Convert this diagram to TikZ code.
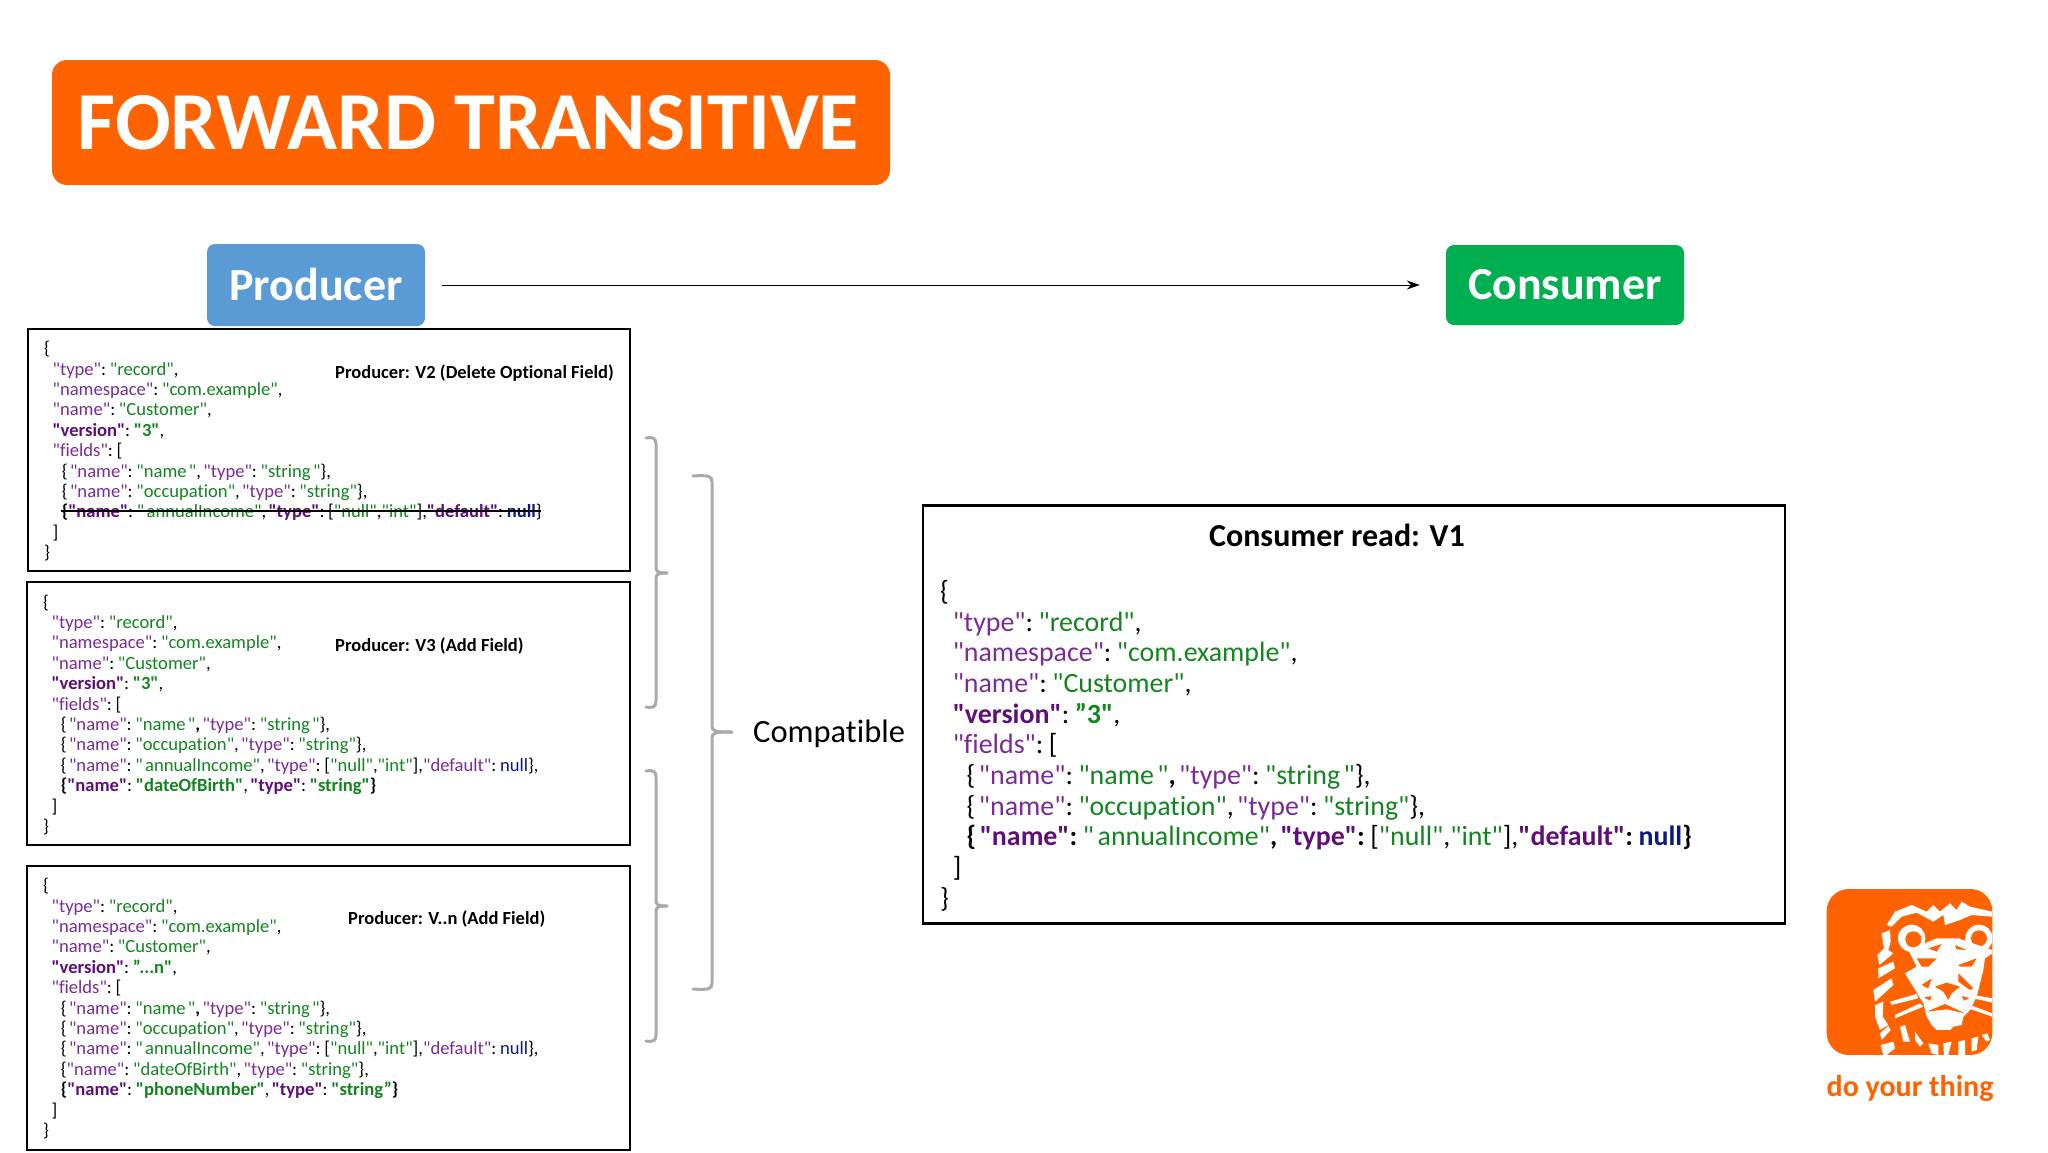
\documentclass[tikz,border=0pt]{standalone}
\usepackage{fontspec}
\usetikzlibrary{arrows.meta}
\setmainfont{Carlito}[Ligatures=NoCommon]
\newfontfamily\jsonfont{Carlito}[Ligatures=NoCommon,WordSpace=0.55]
\definecolor{ingorange}{HTML}{FF6200}
\definecolor{prodblue}{HTML}{5B9BD5}
\definecolor{consgreen}{HTML}{00B050}
\definecolor{keypurple}{HTML}{7B2A96}
\definecolor{boldpurple}{HTML}{5E0F78}
\definecolor{valgreen}{HTML}{12851F}
\definecolor{nullblue}{HTML}{0A1A80}
\definecolor{bracegray}{HTML}{A9A9A9}
\newcommand{\jk}[1]{\textcolor{keypurple}{#1}}
\newcommand{\jv}[1]{\textcolor{valgreen}{#1}}
\newcommand{\jb}[1]{\textbf{\textcolor{boldpurple}{#1}}}
\newcommand{\jg}[1]{\textbf{\textcolor{valgreen}{#1}}}
\newcommand{\jn}[1]{\textcolor{nullblue}{#1}}
\newcommand{\ii}{\hspace*{.45em}}
\newcommand{\iii}{\hspace*{.95em}}
\newcommand{\grpbrace}[6]{% left x, spine x, tip x, top y, middle y, bottom y
  \draw[bracestroke] (#1,#4) .. controls (#2-3,#4-1) and (#2,#4) .. (#2,#4+6) -- (#2,#5-6)
    .. controls (#2,#5-1) and (#2+2,#5) .. (#3,#5);
  \draw[bracestroke] (#3,#5) .. controls (#2+2,#5) and (#2,#5+1) .. (#2,#5+6) -- (#2,#6-6)
    .. controls (#2,#6) and (#2-3,#6+1) .. (#1,#6);
}
\tikzset{
  codebox/.style={draw=black,line width=2.5pt,anchor=north west,inner sep=0pt,outer sep=0pt},
  jsontext/.style={align=left,anchor=north west,inner sep=0pt,font=\jsonfont\fontsize{18.6}{20.4}\selectfont},
  bigjson/.style={jsontext,font=\jsonfont\fontsize{27.9}{30.7}\selectfont},
  caption/.style={anchor=west,inner sep=0pt,font=\fontsize{18.5}{20}\selectfont\bfseries},
  rolebox/.style={rounded corners=8pt,text=white,inner sep=0pt,font=\fontsize{46}{50}\selectfont\bfseries},
  bracestroke/.style={draw=bracegray,line width=3pt,line cap=round},
  lionwhite/.style={fill=white},
  lionorange/.style={fill=ingorange},
}
\begin{document}
\begin{tikzpicture}[x=1pt,y=-1pt]
\useasboundingbox (0,0) rectangle (2048,1152);

% title
\node[fill=ingorange,rounded corners=15pt,minimum width=838pt,minimum height=125pt,text=white,inner sep=0pt,
      font=\fontsize{82.5}{90}\selectfont\bfseries] (title) at (471,122.5) {FORWARD TRANSITIVE\hspace*{5pt}};

% producer and consumer
\node[rolebox,fill=prodblue,minimum width=218pt,minimum height=82pt] (producer) at (316,285) {Producer};
\node[rolebox,fill=consgreen,minimum width=238pt,minimum height=80pt] (consumer) at (1565,285) {Consumer};
\draw[-{Stealth[length=13pt,width=9pt]},line width=1pt,shorten <=17pt,shorten >=26pt] (producer) -- (consumer);

% producer v2
\node[codebox,minimum width=602pt,minimum height=242pt] (boxtwo) at (28,329) {};
\node[jsontext] (jsontwo) at (44,341) {\{\\
\ii\jk{"type"}: \jv{"record"},\\
\ii\jk{"namespace"}: \jv{"com.example"},\\
\ii\jk{"name"}: \jv{"Customer"},\\
\ii\jb{"version"}: \jg{"3"},\\
\ii\jk{"fields"}: [\\
\iii\{ \jk{"name"}: \jv{"name "}, \jk{"type"}: \jv{"string "}\},\\
\iii\{ \jk{"name"}: \jv{"occupation"}, \jk{"type"}: \jv{"string"}\},\\
\iii\textbf{\{}\jb{"name"}: \jv{" annualIncome"}, \jb{"type"}: [\jv{"null"},\jv{"int"}],\jb{"default"}: \textbf{\jn{null}}\}\\
\ii]\\
\}};
\node[caption] (captwo) at (335,373) {Producer: V2 (Delete Optional Field)};
\coordinate (strikea) at (61,511);
\coordinate (strikeb) at (541,511);
\draw[line width=1.4pt] (strikea) -- (strikeb);

% producer v3
\node[codebox,minimum width=603pt,minimum height=263pt] (boxthree) at (27,582) {};
\node[jsontext] (jsonthree) at (43,594.5) {\{\\
\ii\jk{"type"}: \jv{"record"},\\
\ii\jk{"namespace"}: \jv{"com.example"},\\
\ii\jk{"name"}: \jv{"Customer"},\\
\ii\jb{"version"}: \jg{"3"},\\
\ii\jk{"fields"}: [\\
\iii\{ \jk{"name"}: \jv{"name "}\textbf{,} \jk{"type"}: \jv{"string "}\},\\
\iii\{ \jk{"name"}: \jv{"occupation"}, \jk{"type"}: \jv{"string"}\},\\
\iii\{ \jk{"name"}: \jv{" annualIncome"}, \jk{"type"}: [\jv{"null"},\jv{"int"}],\jk{"default"}: \jn{null}\},\\
\iii\textbf{\{}\jb{"name"}: \jg{"dateOfBirth"}, \jb{"type"}: \jg{"string"}\textbf{\}}\\
\ii]\\
\}};
\node[caption] (capthree) at (335,646) {Producer: V3 (Add Field)};

% producer vn
\node[codebox,minimum width=603pt,minimum height=284pt] (boxn) at (27,866) {};
\node[jsontext] (jsonn) at (43,878) {\{\\
\ii\jk{"type"}: \jv{"record"},\\
\ii\jk{"namespace"}: \jv{"com.example"},\\
\ii\jk{"name"}: \jv{"Customer"},\\
\ii\jb{"version"}: \jg{”...n"},\\
\ii\jk{"fields"}: [\\
\iii\{ \jk{"name"}: \jv{"name "}\textbf{,} \jk{"type"}: \jv{"string "}\},\\
\iii\{ \jk{"name"}: \jv{"occupation"}, \jk{"type"}: \jv{"string"}\},\\
\iii\{ \jk{"name"}: \jv{" annualIncome"}, \jk{"type"}: [\jv{"null"},\jv{"int"}],\jk{"default"}: \jn{null}\},\\
\iii\{\jk{"name"}: \jv{"dateOfBirth"}, \jk{"type"}: \jv{"string"}\},\\
\iii\textbf{\{}\jb{"name"}: \jg{"phoneNumber"}, \jb{"type"}: \jg{"string”}\textbf{\}}\\
\ii]\\
\}};
\node[caption] (capn) at (348,919) {Producer: V..n (Add Field)};

% consumer box
\node[codebox,minimum width=862pt,minimum height=418pt] (boxcons) at (923,505.5) {};
\node[anchor=center,inner sep=0pt,font=\fontsize{32}{34}\selectfont\bfseries] (capcons) at (1337,535) {Consumer read: V1};
\node[bigjson] (jsoncons) at (940,580) {\{\\
\ii\jk{"type"}: \jv{"record"},\\
\ii\jk{"namespace"}: \jv{"com.example"},\\
\ii\jk{"name"}: \jv{"Customer"},\\
\ii\jb{"version"}: \jg{”3"},\\
\ii\jk{"fields"}: [\\
\iii\{ \jk{"name"}: \jv{"name "}\textbf{,} \jk{"type"}: \jv{"string "}\},\\
\iii\{ \jk{"name"}: \jv{"occupation"}, \jk{"type"}: \jv{"string"}\},\\
\iii\textbf{\{} \jb{"name"}\textbf{:} \jv{" annualIncome"}\textbf{,} \jb{"type"}\textbf{:} [\jv{"null"},\jv{"int"}],\jb{"default"}\textbf{:} \textbf{\jn{null}}\textbf{\}}\\
\ii]\\
\}};

% braces
\grpbrace{646}{656}{667}{438}{573}{707}
\grpbrace{646}{656}{667}{771}{906}{1041}
\grpbrace{693}{712}{732}{476}{732}{989}
\node[anchor=west,inner sep=0pt,font=\fontsize{32.5}{36}\selectfont] (compatible) at (753,734) {Compatible};

% logo
\begin{scope}[shift={(1780,870)},x=.3333pt,y=-.3333pt]
\fill[ingorange,rounded corners=22pt] (140,57) rectangle (637,555);
\begin{scope}
\clip[rounded corners=22pt] (140,57) rectangle (637,555);
% mane
\fill[lionwhite] (320,165)--(345,125)--(395,105)--(440,125)--(460,105)--(480,125)--(510,100)--(530,120)--(545,95)--(570,110)--(637,125)--(637,140)--(575,135)--(540,150)--(495,165)--(490,135)--(460,155)--(410,128)--(365,140)--(335,170)--cycle;
\fill[lionwhite] (305,190)--(330,180)--(332,215)--(325,240)--(340,250)--(298,285)--(292,255)--(312,235)--cycle;
\fill[lionwhite] (295,295)--(340,275)--(345,295)--(295,325)--cycle;
\fill[lionwhite] (280,360)--(335,325)--(340,345)--(285,395)--cycle;
\fill[lionwhite] (285,405)--(310,395)--(308,440)--(325,465)--(300,480)--(285,440)--cycle;
\fill[lionwhite] (300,490)--(325,468)--(332,480)--(305,510)--cycle;
\fill[lionwhite] (302,525)--(340,515)--(345,535)--(320,555)--(310,555)--cycle;
% ears
\fill[lionwhite] (395,205) circle (41);
\fill[lionwhite] (597,205) circle (41);
\fill[lionorange] (400,208) circle (24);
\fill[lionorange] (597,205) circle (24);
% face
\fill[lionwhite] (385,240)--(470,205)--(535,205)--(637,240)--(637,250)--(615,265)--(610,300)--(590,380)--(570,420)--(550,440)--(545,465)--(520,470)--(510,480)--(470,480)--(455,465)--(440,440)--(430,400)--(375,310)--(410,290)--cycle;
% eyes and cheeks
\fill[lionorange] (445,235)--(485,222)--(470,245)--cycle;
\fill[lionorange] (525,225)--(560,240)--(530,238)--cycle;
\fill[lionorange] (410,265)--(470,265)--(445,290)--(425,290)--cycle;
\fill[lionorange] (535,285)--(590,265)--(575,290)--(540,290)--cycle;
\fill[lionorange] (425,345)--(455,325)--(445,355)--cycle;
\fill[lionorange] (535,310)--(580,355)--(570,360)--(535,335)--cycle;
\fill[lionorange] (432,382)--(455,378)--(450,392)--cycle;
\fill[lionorange] (545,378)--(568,384)--(552,392)--cycle;
\fill[lionorange] (465,350)--(500,338)--(540,350)--(515,370)--(505,390)--(490,365)--cycle;
\fill[lionorange] (440,425)--(495,402)--(555,430)--(500,418)--cycle;
% whiskers
\fill[lionwhite] (330,395)--(410,372)--(415,385)--(335,405)--cycle;
\fill[lionwhite] (345,435)--(420,400)--(430,410)--(345,445)--cycle;
\fill[lionwhite] (580,375)--(637,385)--(637,398)--(580,385)--cycle;
\fill[lionwhite] (570,405)--(637,430)--(637,440)--(565,415)--cycle;
% beard
\fill[lionwhite] (360,470)--(375,465)--(390,515)--(370,515)--cycle;
\fill[lionwhite] (405,485)--(430,520)--(420,530)--(405,510)--cycle;
\fill[lionwhite] (445,520)--(475,525)--(475,555)--(455,550)--cycle;
\fill[lionwhite] (490,520)--(515,515)--(505,555)--(492,555)--cycle;
\fill[lionwhite] (535,515)--(555,510)--(555,555)--(535,555)--cycle;
\fill[lionwhite] (575,505)--(595,500)--(590,540)--(575,545)--cycle;
\fill[lionwhite] (605,495)--(622,490)--(630,510)--(620,515)--cycle;
\end{scope}
\end{scope}
\node[anchor=center,inner sep=0pt,text=ingorange,font=\fontsize{30}{33}\selectfont\bfseries] (slogan) at (1910,1088) {do your thing};
\end{tikzpicture}
\end{document}
